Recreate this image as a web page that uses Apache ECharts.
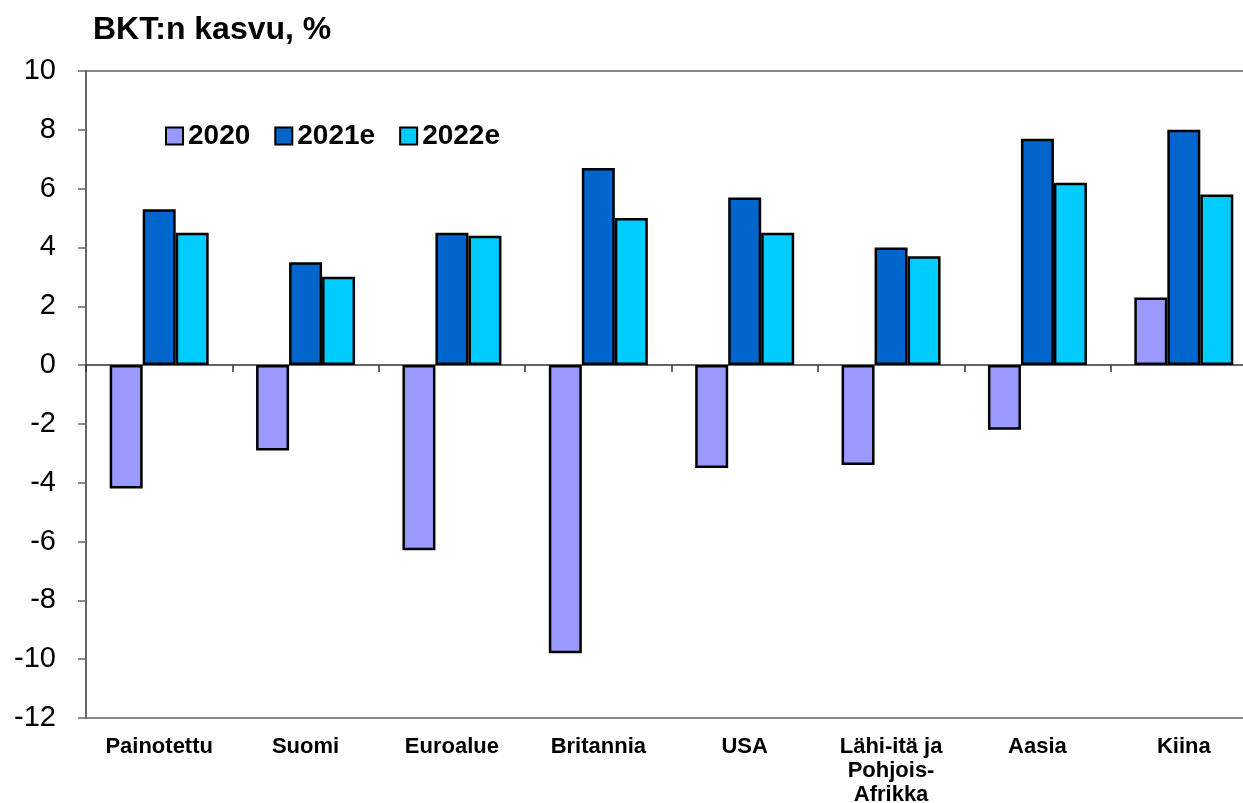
<!DOCTYPE html>
<html>
<head>
<meta charset="utf-8">
<script src="https://cdn.jsdelivr.net/npm/echarts@6/dist/echarts.min.js"></script>
<style>
html,body{margin:0;padding:0;background:#fff;}
#chart{width:1243px;height:803px;}
</style>
</head>
<body>
<div id="chart"></div>
<script>
var categories = ['Painotettu', 'Suomi', 'Euroalue', 'Britannia', 'USA', 'Lähi-itä ja\nPohjois-\nAfrikka', 'Aasia', 'Kiina'];
var seriesNames = ['2020', '2021e', '2022e'];
var values2020 = [-4.2, -2.9, -6.3, -9.8, -3.5, -3.4, -2.2, 2.3];
var values2021e = [5.3, 3.5, 4.5, 6.7, 5.7, 4.0, 7.7, 8.0];
var values2022e = [4.5, 3.0, 4.4, 5.0, 4.5, 3.7, 6.2, 5.8];
var colors = ['#9999FF', '#0066CC', '#00CCFF'];
var yMin = -12, yMax = 10, yStep = 2;

var font = 'Arial, "Liberation Sans", sans-serif';
var chart = echarts.init(document.getElementById('chart'), null, {renderer: 'canvas'});

var allValues = [values2020, values2021e, values2022e];
var series = seriesNames.map(function (name, i) {
  return {
    name: name,
    type: 'bar',
    xAxisIndex: 0,
    data: allValues[i],
    barWidth: 33,
    barGap: '0%',
    itemStyle: {color: colors[i], borderColor: '#000', borderWidth: 2.5},
    emphasis: {disabled: true},
    z: 3
  };
});

chart.setOption({
  animation: false,
  backgroundColor: '#fff',
  title: {
    text: 'BKT:n kasvu, %',
    left: 88,
    top: 9,
    textStyle: {fontFamily: font, fontSize: 32, fontWeight: 'bold', color: '#000'}
  },
  legend: {
    left: 165,
    top: 122,
    padding: 0,
    itemWidth: 17,
    itemHeight: 17,
    itemGap: 24,
    icon: 'rect',
    textStyle: {fontFamily: font, fontSize: 28, fontWeight: 'bold', color: '#000'},
    data: seriesNames.map(function (n, i) {
      return {name: n, itemStyle: {color: colors[i], borderColor: '#000', borderWidth: 2}};
    })
  },
  grid: {
    left: 86,
    top: 71,
    bottom: 85,
    width: 1171,
    containLabel: false,
    outerBoundsMode: 'none',
    show: true,
    borderColor: '#888',
    borderWidth: 2,
    backgroundColor: 'transparent'
  },
  xAxis: [{
    type: 'category',
    data: categories,
    position: 'bottom',
    axisLine: {show: false, onZero: false},
    axisTick: {show: false},
    axisLabel: {
      interval: 0,
      margin: 17,
      fontFamily: font,
      fontSize: 22,
      fontWeight: 'bold',
      color: '#000',
      lineHeight: 24,
      align: 'center'
    },
    splitLine: {show: false}
  }, {
    type: 'category',
    data: categories,
    position: 'bottom',
    axisLine: {show: true, onZero: true, lineStyle: {color: '#333', width: 1.5}},
    axisTick: {show: true, length: 7, inside: false, lineStyle: {color: '#333', width: 1.5}},
    axisLabel: {show: false},
    splitLine: {show: false}
  }],
  yAxis: {
    type: 'value',
    min: yMin,
    max: yMax,
    interval: yStep,
    axisLine: {show: true, lineStyle: {color: '#666', width: 2}},
    axisTick: {show: true, length: 8, lineStyle: {color: '#666', width: 1.5}},
    axisLabel: {margin: 30, fontFamily: font, fontSize: 29, color: '#000'},
    splitLine: {show: false}
  },
  series: series
});
</script>
</body>
</html>
